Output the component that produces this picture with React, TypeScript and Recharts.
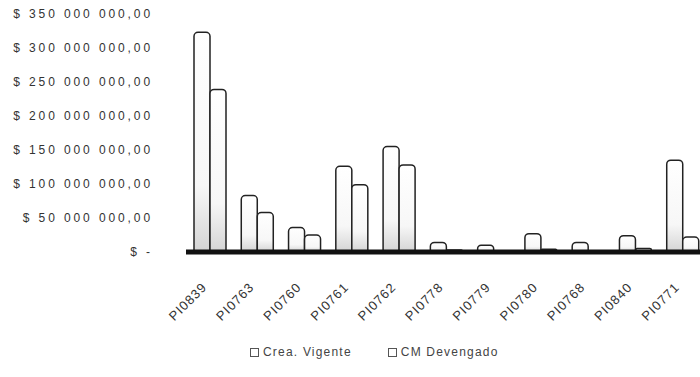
import React from "react";
import { Bar, BarChart, Legend, XAxis, YAxis } from "recharts";

const projects = ["PI0839", "PI0763", "PI0760", "PI0761", "PI0762", "PI0778", "PI0779", "PI0780", "PI0768", "PI0840", "PI0771"];
const creaVigente = [323000000, 83000000, 36000000, 126000000, 155000000, 14000000, 10000000, 27000000, 14000000, 24000000, 135000000];
const cmDevengado = [239000000, 58000000, 25000000, 99000000, 128000000, 3000000, 2000000, 4000000, 2000000, 5000000, 22000000];
const yTicks = [0, 50000000, 100000000, 150000000, 200000000, 250000000, 300000000, 350000000];

const data = projects.map((p, i) => ({
  name: p,
  crea: creaVigente[i],
  cm: cmDevengado[i],
}));

const FONT = "'Liberation Sans', Arial, sans-serif";

function money(v: number) {
  if (v === 0) return "$ -      ";
  const s = Math.round(v).toString().replace(/\B(?=(\d{3})+(?!\d))/g, " ");
  return `$ ${s},00`;
}

function XTick({ x, y, payload }: any) {
  return (
    <text
      x={x - 2}
      y={y + 34}
      transform={`rotate(-45, ${x - 2}, ${y + 34})`}
      textAnchor="end"
      fontSize={13}
      letterSpacing={1}
      fill="#333"
      fontFamily={FONT}
    >
      {payload.value}
    </text>
  );
}

function LegendBox() {
  const items = [
    { label: "Crea. Vigente" },
    { label: "CM Devengado" },
  ];
  return (
    <div style={{ display: "flex", gap: 36, fontFamily: FONT, fontSize: 12, color: "#444", letterSpacing: 1.2 }}>
      {items.map((it) => (
        <div key={it.label} style={{ display: "flex", alignItems: "center" }}>
          <span style={{ display: "inline-block", width: 7, height: 7, border: "1px solid #555", marginRight: 4 }} />
          {it.label}
        </div>
      ))}
    </div>
  );
}

export default function App() {
  return (
    <div style={{ position: "absolute", left: 0, top: 0, background: "#fff", overflow: "hidden", width: 700, height: 377 }}>
      <BarChart
        width={700}
        height={377}
        data={data}
        margin={{ top: 14, right: -6, bottom: 0, left: 0 }}
        barCategoryGap={8}
        barGap={0}
      >
        <defs>
          <linearGradient id="scan" x1="0" y1="0" x2="0" y2="1">
            <stop offset="0%" stopColor="#ffffff" />
            <stop offset="70%" stopColor="#f7f7f7" />
            <stop offset="100%" stopColor="#d4d4d4" />
          </linearGradient>
        </defs>
        <XAxis
          dataKey="name"
          axisLine={{ stroke: "#111", strokeWidth: 5 }}
          tickLine={false}
          tickSize={0}
          height={125}
          interval={0}
          tick={<XTick />}
        />
        <YAxis
          width={186}
          domain={[0, 350000000]}
          ticks={yTicks}
          axisLine={false}
          tickLine={false}
          tickSize={0}
          tickMargin={33}
          tickFormatter={money}
          tick={{ fontSize: 12, fill: "#333", fontFamily: FONT, letterSpacing: 2.9 }}
        />
        <Legend
          layout="horizontal"
          verticalAlign="middle"
          align="center"
          content={<LegendBox />}
          wrapperStyle={{ top: 345, left: 250, width: 320 }}
        />
        <Bar dataKey="crea" name="Crea. Vigente" fill="url(#scan)" stroke="#222" strokeWidth={1.5} radius={[4, 4, 0, 0]} isAnimationActive={false} />
        <Bar dataKey="cm" name="CM Devengado" fill="url(#scan)" stroke="#222" strokeWidth={1.5} radius={[4, 4, 0, 0]} isAnimationActive={false} />
      </BarChart>
    </div>
  );
}
